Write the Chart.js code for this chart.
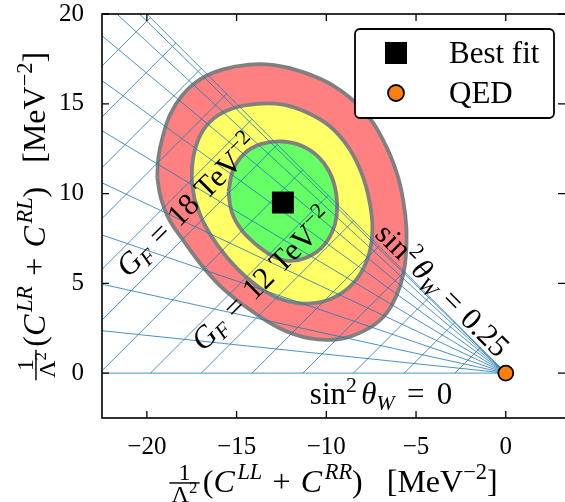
<!DOCTYPE html>
<html>
<head>
<meta charset="utf-8">
<script src="https://cdn.jsdelivr.net/npm/chart.js@4.4.0/dist/chart.umd.min.js"></script>
<style>
  html, body { margin: 0; padding: 0; background: #fff; }
  #wrap { width: 565px; height: 502px; }
</style>
</head>
<body>
<div id="wrap"><canvas id="myChart" width="565" height="502"></canvas></div>
<script>
const xTicks = [-20, -15, -10, -5, 0]
const yTicks = [0, 5, 10, 15, 20]

// sin^2 theta_W = 0, 0.025 ... 0.25, slope of each ray out of the origin
const raySlopes = [0, 0.105, 0.22, 0.342, 0.471, 0.6, 0.724, 0.835, 0.923, 0.98, 1]
// G_F = 2, 4 ... 30 TeV^-2, where each line meets the sin^2 theta_W = 0 ray (as -x)
const gfIntercepts = [2.83, 5.66, 8.49, 11.31, 14.14, 16.97, 19.8, 22.63, 25.46, 28.28, 31.11, 33.94, 36.77, 39.6, 42.43]

// contour outlines
const redContour = [
    [-19.42, 10.9], [-19.36, 12.0], [-19.12, 13.15], [-18.7, 14.4], [-18.0, 15.5], [-17.05, 16.35],
    [-15.8, 16.9], [-14.3, 17.18], [-12.9, 17.15], [-11.4, 16.8], [-9.6, 16.0], [-8.0, 14.7],
    [-6.85, 13.0], [-6.0, 10.9], [-5.6, 8.8], [-5.53, 7.2], [-5.7, 5.55], [-6.1, 4.3],
    [-6.8, 3.15], [-7.9, 2.35], [-9.25, 1.9], [-10.9, 1.93], [-12.6, 2.5], [-14.35, 3.6],
    [-15.8, 4.75], [-16.9, 5.95], [-17.9, 7.3], [-18.75, 8.55], [-19.22, 9.75]
]
const yellowContour = [
    [-17.35, 9.7], [-17.5, 10.9], [-17.4, 12.1], [-17.0, 13.3], [-16.25, 14.2], [-15.2, 14.75],
    [-13.85, 15.0], [-12.4, 14.95], [-11.05, 14.5], [-9.8, 13.75], [-8.75, 12.55], [-8.0, 11.05],
    [-7.58, 9.5], [-7.43, 8.05], [-7.6, 6.7], [-8.15, 5.45], [-9.08, 4.5], [-10.3, 3.95],
    [-11.6, 3.9], [-12.75, 4.2], [-13.85, 4.85], [-15.0, 5.85], [-16.05, 7.1], [-16.85, 8.4]
]
const greenContour = [
    [-15.45, 10.1], [-15.2, 11.3], [-14.6, 12.2], [-13.65, 12.75], [-12.45, 12.9], [-11.35, 12.65],
    [-10.45, 12.05], [-9.8, 11.15], [-9.45, 10.0], [-9.42, 8.8], [-9.7, 7.8], [-10.3, 6.95],
    [-11.2, 6.4], [-12.1, 6.25], [-12.95, 6.5], [-13.9, 7.15], [-14.75, 8.0], [-15.28, 9.0]
]

const bestFit = [[-12.42, 9.5]]
const qed = [[0, 0]]

const SERIF = '"Liberation Serif", "Times New Roman", serif'
const gridBlue = "rgba(31, 119, 180, 0.8)"

function font(size, italic) {
    return (italic ? "italic " : "") + size + "px " + SERIF
}

function toPoints(arr) {
    return arr.map(p => ({ x: p[0], y: p[1] }))
}

function contourSet(arr, color, order) {
    return {
        data: toPoints(arr.concat([arr[0]])),
        showLine: true,
        fill: "shape",
        backgroundColor: color,
        borderColor: "#808080",
        borderWidth: 3.8,
        pointRadius: 0,
        tension: 0.4,
        order: order
    }
}

var datasets = []
datasets.push({
    data: toPoints(bestFit), pointStyle: "rect", pointRadius: 15.5,
    backgroundColor: "#000", borderColor: "#000", borderWidth: 0, order: 0
})
datasets.push({
    data: toPoints(qed), pointStyle: "circle", pointRadius: 7.5,
    backgroundColor: "#ff7f0e", borderColor: "#000", borderWidth: 1.8, order: 0, clip: false
})
raySlopes.forEach(s => {
    datasets.push({
        data: [{ x: 0, y: 0 }, { x: -25, y: 25 * s }],
        showLine: true, borderColor: gridBlue, borderWidth: 1, pointRadius: 0, order: 1
    })
})
gfIntercepts.forEach(c => {
    datasets.push({
        data: [{ x: -c, y: 0 }, { x: -c / 2, y: c / 2 }],
        showLine: true, borderColor: gridBlue, borderWidth: 1, pointRadius: 0, order: 1
    })
})
datasets.push(contourSet(greenContour, "#66ff66", 2))
datasets.push(contourSet(yellowContour, "#ffff66", 3))
datasets.push(contourSet(redContour, "#ff8080", 4))

// pieces of math text: [text, kind]
function layout(ctx, parts, S) {
    const items = []
    let x = 0
    for (const [t, k] of parts) {
        if (k === "gap") { x += t * S; continue }
        if (k === "frac") {
            const fs = S * 0.75
            ctx.font = font(fs, false)
            const wn = ctx.measureText(t[0]).width
            const wd0 = ctx.measureText(t[1]).width
            ctx.font = font(fs * 0.7, false)
            const wd = wd0 + ctx.measureText(t[2]).width
            const w = Math.max(wn, wd) + S * 0.14
            items.push({ frac: true, x: x, w: w, wn: wn, wd0: wd0, wd: wd, t: t, fs: fs })
            x += w + S * 0.1
            continue
        }
        let size = S, dy = 0
        const it = k === "i" || k === "supi" || k === "subi"
        if (k === "sup" || k === "supi") { size = S * 0.7; dy = -S * 0.4 }
        if (k === "subi") { size = S * 0.7; dy = S * 0.18 }
        ctx.font = font(size, it)
        items.push({ t: t, f: ctx.font, x: x, dy: dy })
        x += ctx.measureText(t).width
    }
    return { items: items, width: x }
}

function drawRich(ctx, parts, S, cx, cy, angle) {
    ctx.save()
    ctx.translate(cx, cy)
    ctx.rotate(angle)
    const L = layout(ctx, parts, S)
    const x0 = -L.width / 2
    const base = S * 0.3
    ctx.fillStyle = "#000"
    ctx.strokeStyle = "#000"
    ctx.textAlign = "left"
    ctx.textBaseline = "alphabetic"
    L.items.forEach(it => {
        if (it.frac) {
            const axis = base - S * 0.27
            ctx.font = font(it.fs, false)
            ctx.fillText(it.t[0], x0 + it.x + (it.w - it.wn) / 2, axis - S * 0.09)
            const dx = x0 + it.x + (it.w - it.wd) / 2
            const dBase = axis + S * 0.09 + it.fs * 0.68
            ctx.fillText(it.t[1], dx, dBase)
            ctx.font = font(it.fs * 0.7, false)
            ctx.fillText(it.t[2], dx + it.wd0, dBase - it.fs * 0.38)
            ctx.lineWidth = S * 0.045
            ctx.beginPath()
            ctx.moveTo(x0 + it.x, axis)
            ctx.lineTo(x0 + it.x + it.w, axis)
            ctx.stroke()
            return
        }
        ctx.font = it.f
        ctx.fillText(it.t, x0 + it.x, base + it.dy)
    })
    ctx.restore()
}

const xTitle = [[["1", "Λ", "2"], "frac"], ["(", "r"], ["C", "i"], [0.08, "gap"], ["LL", "supi"], [0.32, "gap"], ["+", "r"],
    [0.32, "gap"], ["C", "i"], [0.08, "gap"], ["RR", "supi"], [")", "r"], [0.75, "gap"], ["[MeV", "r"], ["−2", "sup"], ["]", "r"]]
const yTitle = [[["1", "Λ", "2"], "frac"], ["(", "r"], ["C", "i"], [0.08, "gap"], ["LR", "supi"], [0.32, "gap"], ["+", "r"],
    [0.32, "gap"], ["C", "i"], [0.08, "gap"], ["RL", "supi"], [")", "r"], [0.75, "gap"], ["[MeV", "r"], ["−2", "sup"], ["]", "r"]]
const gf18 = [["G", "i"], ["F", "subi"], [0.3, "gap"], ["=", "r"], [0.3, "gap"], ["18", "r"], [0.25, "gap"], ["TeV", "r"], ["−2", "sup"]]
const gf12 = [["G", "i"], ["F", "subi"], [0.3, "gap"], ["=", "r"], [0.3, "gap"], ["12", "r"], [0.25, "gap"], ["TeV", "r"], ["−2", "sup"]]
const sin25 = [["sin", "r"], ["2", "sup"], [0.12, "gap"], ["θ", "i"], ["W", "subi"], [0.3, "gap"], ["=", "r"], [0.3, "gap"], ["0.25", "r"]]
const sin0 = [["sin", "r"], ["2", "sup"], [0.14, "gap"], ["θ", "i"], ["W", "subi"], [0.4, "gap"], ["=", "r"], [0.4, "gap"], ["0", "r"]]

const decorations = {
    id: "decorations",
    afterDraw(chart) {
        const ctx = chart.ctx
        const a = chart.chartArea
        const xs = chart.scales.x, ys = chart.scales.y

        // inward ticks on all four sides, then the frame
        ctx.save()
        ctx.strokeStyle = "#000"
        ctx.lineWidth = 1.3
        ctx.beginPath()
        xTicks.forEach(v => {
            const px = xs.getPixelForValue(v)
            ctx.moveTo(px, a.bottom); ctx.lineTo(px, a.bottom - 7)
            ctx.moveTo(px, a.top); ctx.lineTo(px, a.top + 7)
        })
        yTicks.forEach(v => {
            const py = ys.getPixelForValue(v)
            ctx.moveTo(a.left, py); ctx.lineTo(a.left + 7, py)
            ctx.moveTo(a.right, py); ctx.lineTo(a.right - 7, py)
        })
        ctx.stroke()
        ctx.lineWidth = 1.6
        ctx.strokeRect(a.left, a.top, a.right - a.left + 2, a.bottom - a.top)
        ctx.restore()

        // labels along the grid
        const S = 31
        drawRich(ctx, gf18, S, xs.getPixelForValue(-17.72), ys.getPixelForValue(9.3), -Math.PI / 4)
        drawRich(ctx, gf12, S, xs.getPixelForValue(-13.54), ys.getPixelForValue(5.2), -Math.PI / 4)
        drawRich(ctx, sin25, S, xs.getPixelForValue(-3.55), ys.getPixelForValue(4.6), Math.PI / 4)
        drawRich(ctx, sin0, S, xs.getPixelForValue(-6.95), ys.getPixelForValue(-1.2), 0)

        // axis titles
        drawRich(ctx, xTitle, 32, (a.left + a.right) / 2, 482, 0)
        drawRich(ctx, yTitle, 32, 35, (a.top + a.bottom) / 2, -Math.PI / 2)

        // legend box
        ctx.save()
        ctx.fillStyle = "#fff"
        ctx.strokeStyle = "#000"
        ctx.lineWidth = 1.8
        ctx.beginPath()
        ctx.roundRect(355, 29, 199, 89, 5)
        ctx.fill()
        ctx.stroke()
        ctx.fillStyle = "#000"
        ctx.fillRect(385, 42, 22, 22)
        ctx.beginPath()
        ctx.arc(396, 93, 8, 0, Math.PI * 2)
        ctx.fillStyle = "#ff7f0e"
        ctx.fill()
        ctx.lineWidth = 1.8
        ctx.stroke()
        ctx.fillStyle = "#000"
        ctx.font = font(31, false)
        ctx.textAlign = "left"
        ctx.textBaseline = "alphabetic"
        ctx.fillText("Best fit", 449, 63)
        ctx.fillText("QED", 449, 103)
        ctx.restore()
    }
}

function tickText(v) {
    return v < 0 ? "−" + Math.abs(v) : String(v)
}

function noPadding(s) {
    s.paddingLeft = 0
    s.paddingRight = 0
    s.paddingTop = 0
    s.paddingBottom = 0
}

var ctx = document.getElementById("myChart").getContext("2d")
var chart = new Chart(ctx, {
    type: "scatter",
    data: { datasets: datasets },
    options: {
        responsive: false,
        devicePixelRatio: 1,
        animation: false,
        events: [],
        layout: { autoPadding: false, padding: { top: 14, right: 0, bottom: 0, left: 0 } },
        plugins: { legend: { display: false }, tooltip: { enabled: false } },
        scales: {
            x: {
                type: "linear", min: -22.5, max: 3.3,
                afterFit: s => { s.height = 84; noPadding(s) },
                afterBuildTicks: s => { s.ticks = xTicks.map(v => ({ value: v })) },
                grid: { display: false }, border: { display: false },
                ticks: { color: "#000", padding: 6, maxRotation: 0, autoSkip: false, callback: tickText,
                    font: { family: SERIF, size: 25 } }
            },
            y: {
                type: "linear", min: -2.5, max: 20,
                afterFit: s => { s.width = 102; noPadding(s) },
                afterBuildTicks: s => { s.ticks = yTicks.map(v => ({ value: v })) },
                grid: { display: false }, border: { display: false },
                ticks: { color: "#000", padding: 10, autoSkip: false, callback: tickText,
                    font: { family: SERIF, size: 25 } }
            }
        }
    },
    plugins: [decorations]
})
</script>
</body>
</html>
